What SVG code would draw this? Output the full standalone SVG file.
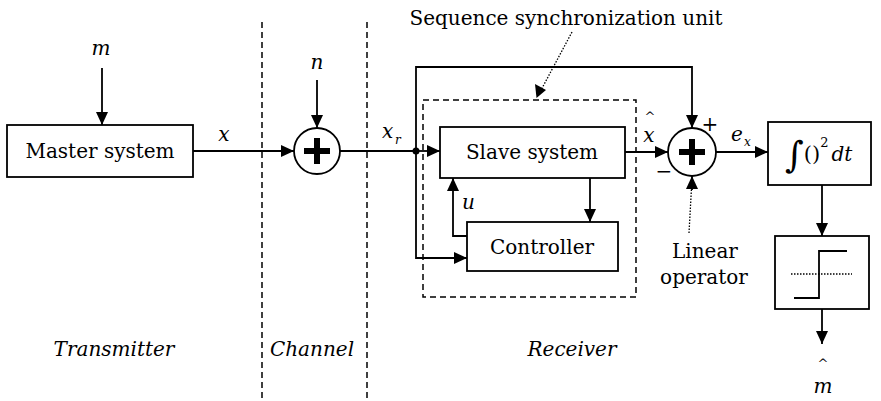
<svg xmlns="http://www.w3.org/2000/svg" width="881" height="401" viewBox="0 0 881 401">
<style>
text{font-family:"DejaVu Serif",serif;fill:#000}
.t{font-size:20px}
.i{font-size:20px;font-style:italic}
.s{font-size:12px;font-style:italic}
.ln{fill:none;stroke:#000;stroke-width:1.8}
.box{fill:#fff;stroke:#000;stroke-width:1.8}
.dash{fill:none;stroke:#000;stroke-width:1.5;stroke-dasharray:6,4}
.dot{fill:none;stroke:#000;stroke-width:1.3;stroke-dasharray:1.5,1.5}
</style>
<defs>
<marker id="ah" viewBox="0 0 13 12" refX="13" refY="6" markerWidth="13" markerHeight="12" markerUnits="userSpaceOnUse" orient="auto">
<path d="M0,0 L13,6 L0,12 z" fill="#000"/>
</marker>
</defs>
<g id="dividers">
<line class="dash" x1="262" y1="22" x2="262" y2="401"/>
<line class="dash" x1="367" y1="22" x2="367" y2="401"/>
</g>
<g id="sync-unit">
<rect class="dash" x="423" y="100" width="213" height="197"/>
<text class="t" x="566" y="25" text-anchor="middle">Sequence synchronization unit</text>
</g>
<g id="connectors">
<line class="ln" x1="102" y1="68" x2="102" y2="125" marker-end="url(#ah)"/>
<line class="ln" x1="193" y1="151" x2="294" y2="151" marker-end="url(#ah)"/>
<line class="ln" x1="317" y1="80" x2="317" y2="128" marker-end="url(#ah)"/>
<line class="ln" x1="340" y1="151" x2="416" y2="151"/>
<line class="ln" x1="416" y1="151" x2="440" y2="151" marker-end="url(#ah)"/>
<polyline class="ln" points="416,151 416,67 692,67 692,128" marker-end="url(#ah)"/>
<polyline class="ln" points="416,151 416,258 467,258" marker-end="url(#ah)"/>
<polyline class="ln" points="467,236 453,236 453,178" marker-end="url(#ah)"/>
<line class="ln" x1="590" y1="178" x2="590" y2="222" marker-end="url(#ah)"/>
<line class="ln" x1="625" y1="152" x2="668" y2="152" marker-end="url(#ah)"/>
<line class="ln" x1="716" y1="152" x2="768" y2="152" marker-end="url(#ah)"/>
<line class="ln" x1="822" y1="185" x2="822" y2="236" marker-end="url(#ah)"/>
<line class="ln" x1="822" y1="309" x2="822" y2="344" marker-end="url(#ah)"/>
<line class="dot" x1="572" y1="32" x2="540" y2="92"/>
<path d="M536.5,98 L535,84 L546,90 z" fill="#000"/>
<line class="dot" x1="689" y1="233" x2="691.5" y2="188"/>
<line class="ln" x1="692" y1="190" x2="692" y2="176" marker-end="url(#ah)"/>
<circle cx="416" cy="151" r="3.5" fill="#000"/>
</g>
<g id="master">
<rect class="box" x="7" y="125" width="186" height="52"/>
<text class="t" x="100" y="158" text-anchor="middle">Master system</text>
</g>
<g id="sum1">
<circle class="box" cx="317" cy="151" r="23"/>
<path d="M304,151 H330 M317,138 V164" stroke="#000" stroke-width="6" fill="none"/>
</g>
<g id="slave">
<rect class="box" x="440" y="127" width="185" height="51"/>
<text class="t" x="532" y="159" text-anchor="middle">Slave system</text>
</g>
<g id="controller">
<rect class="box" x="467" y="222" width="151" height="49"/>
<text class="t" x="542" y="254" text-anchor="middle">Controller</text>
</g>
<g id="sum2">
<circle class="box" cx="692" cy="152" r="24"/>
<path d="M679,152 H705 M692,139 V165" stroke="#000" stroke-width="6" fill="none"/>
</g>
<g id="integrator">
<rect class="box" x="768" y="122" width="103" height="63"/>
<text x="785" y="167"><tspan style="font-size:36px">∫</tspan><tspan style="font-size:21px" dy="-6">()</tspan><tspan style="font-size:13px" dy="-14">2</tspan><tspan class="i" dy="14" dx="3">dt</tspan></text>
</g>
<g id="comparator">
<rect class="box" x="775" y="236" width="94" height="73"/>
<polyline class="ln" points="794,298 819,298 819,251 847,251"/>
<line class="dot" x1="791" y1="274" x2="852" y2="274"/>
</g>
<g id="labels">
<text class="i" x="101" y="55" text-anchor="middle">m</text>
<text class="i" x="224" y="141" text-anchor="middle">x</text>
<text class="i" x="317" y="69" text-anchor="middle">n</text>
<text class="i" x="382" y="138">x</text>
<text class="s" x="395" y="144">r</text>
<text class="i" x="462" y="209">u</text>
<text style="font-size:13px" x="650" y="121" text-anchor="middle">^</text>
<text class="i" x="649" y="142" text-anchor="middle">x</text>
<text style="font-size:20px" x="710" y="131" text-anchor="middle">+</text>
<text style="font-size:20px" x="664" y="178" text-anchor="middle">−</text>
<text class="i" x="731" y="141">e</text>
<text class="s" x="744" y="146">x</text>
<text class="t" x="705" y="258" text-anchor="middle">Linear</text>
<text class="t" x="704" y="284" text-anchor="middle">operator</text>
<text style="font-size:13px" x="823" y="368" text-anchor="middle">^</text>
<text class="i" x="823" y="393" text-anchor="middle">m</text>
<text class="i" x="114" y="356" text-anchor="middle">Transmitter</text>
<text class="i" x="312" y="356" text-anchor="middle">Channel</text>
<text class="i" x="572" y="356" text-anchor="middle">Receiver</text>
</g>
</svg>
